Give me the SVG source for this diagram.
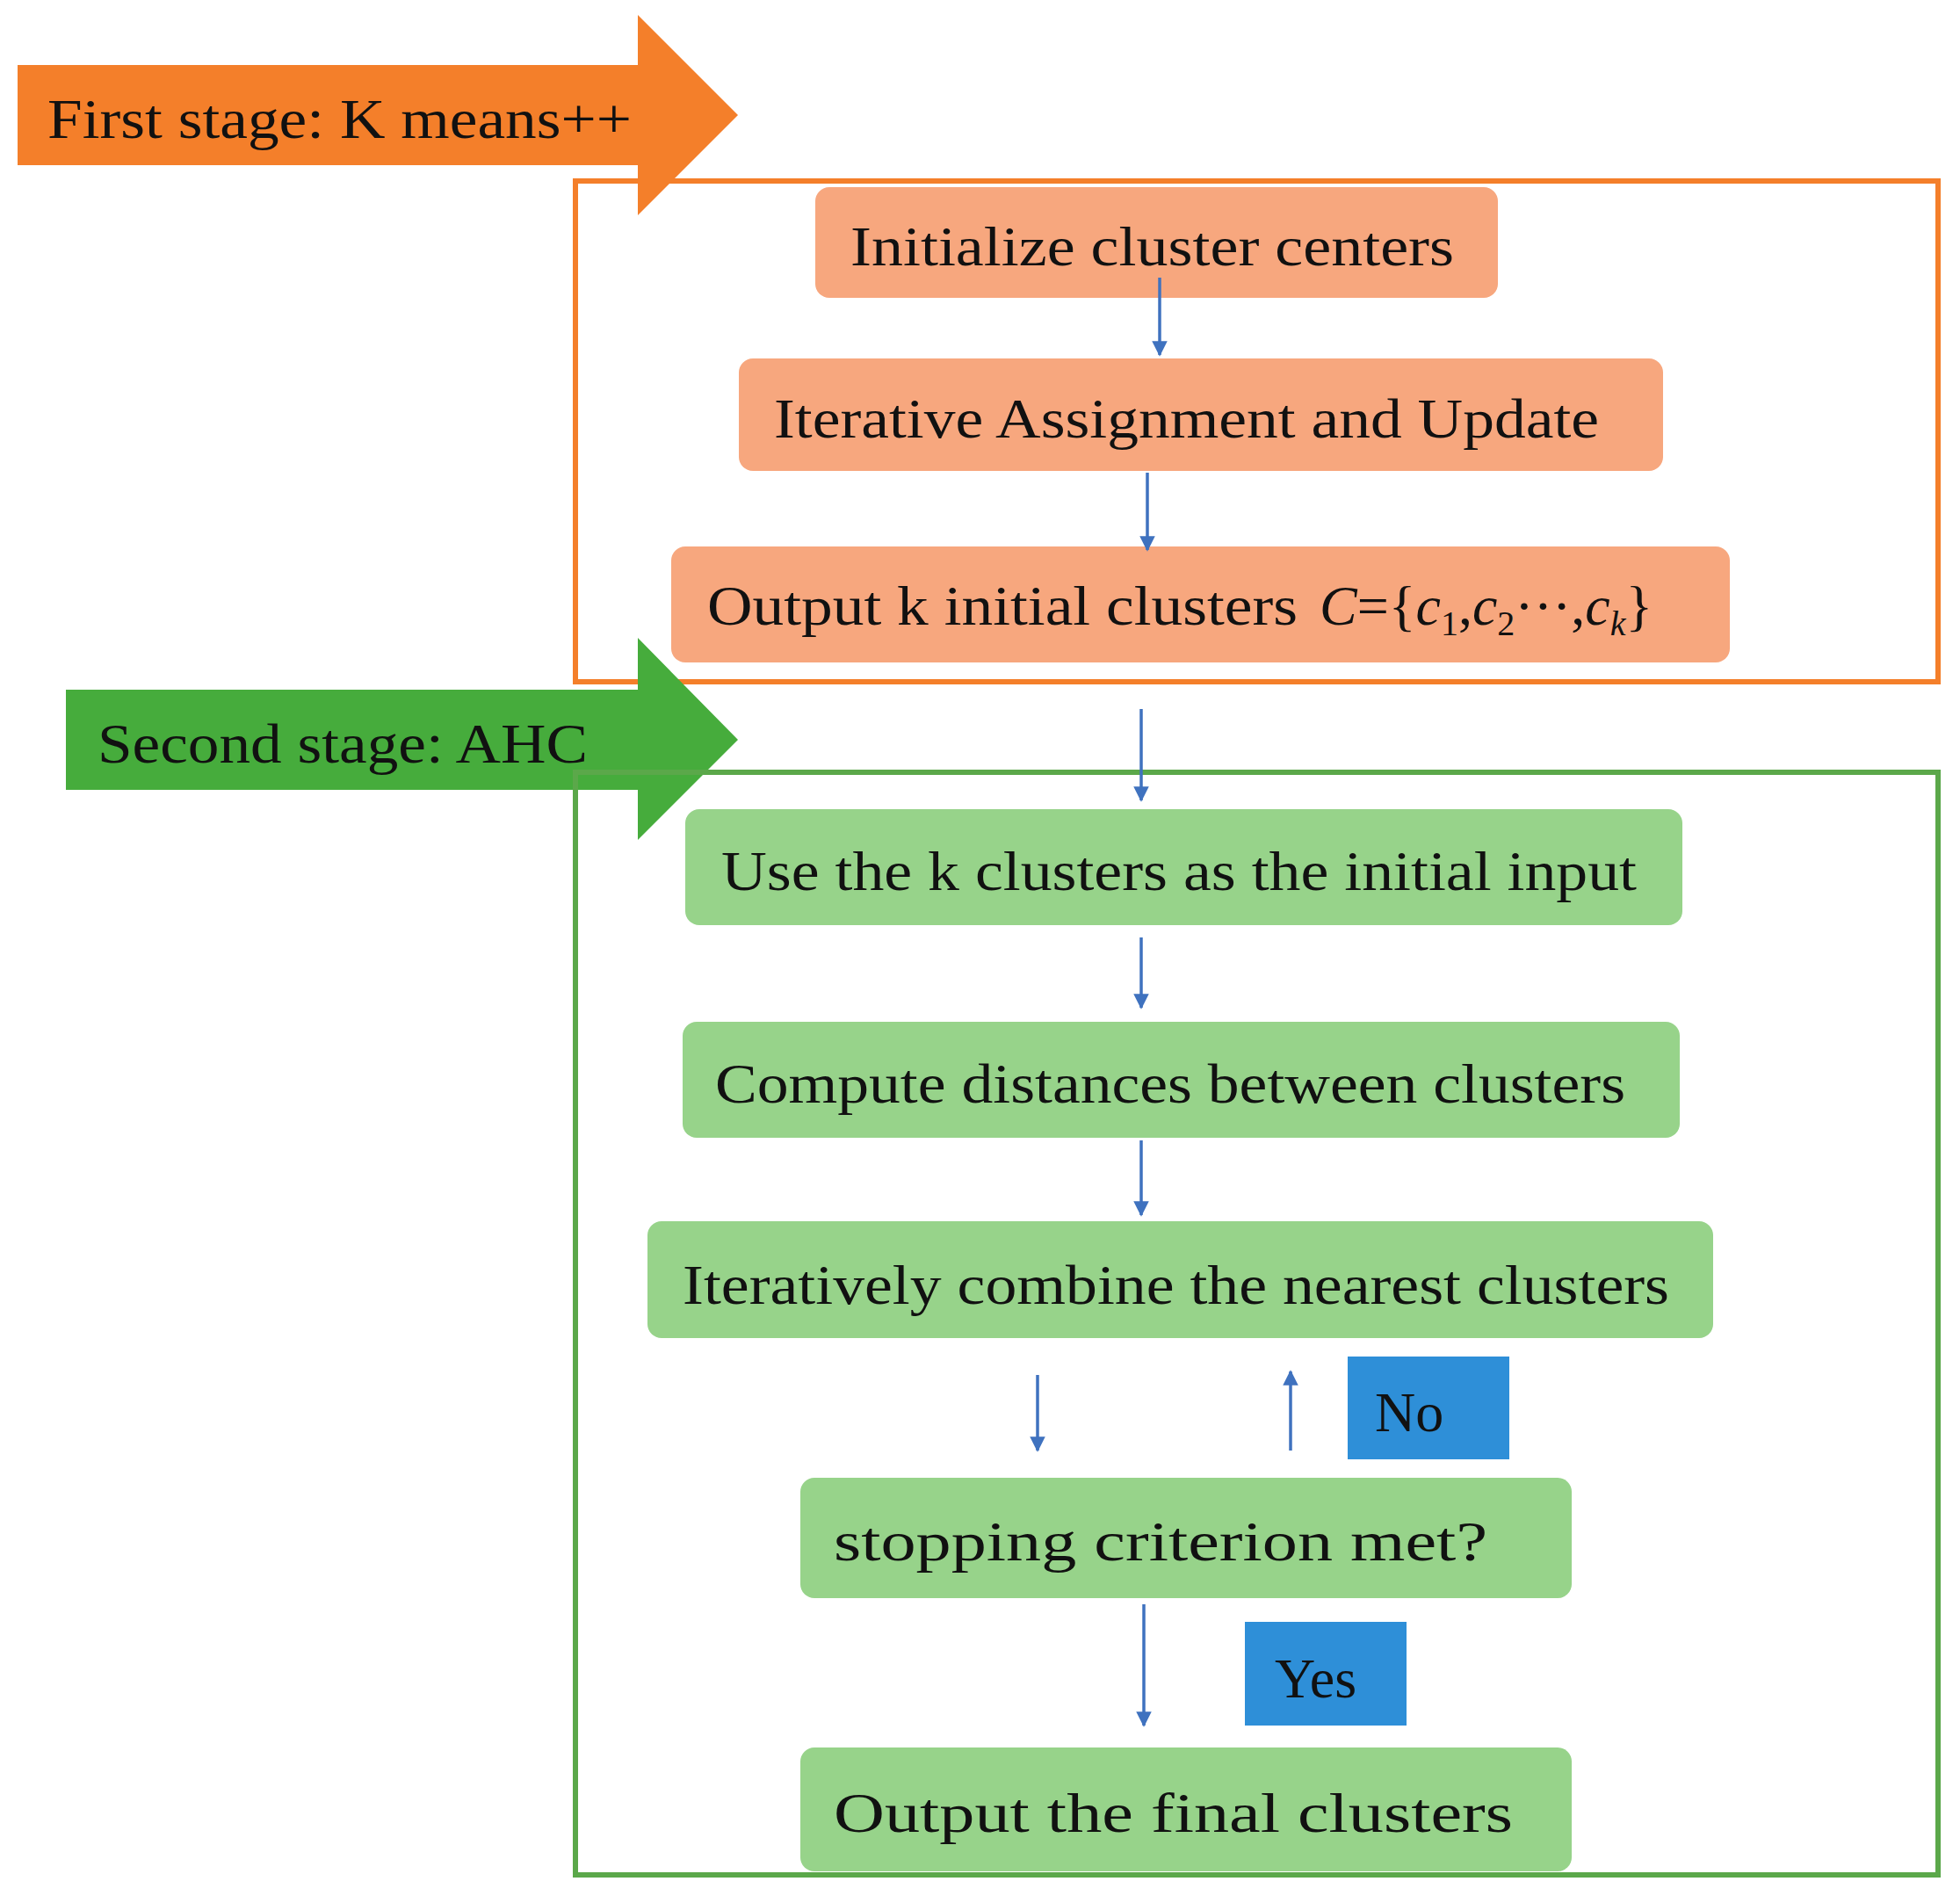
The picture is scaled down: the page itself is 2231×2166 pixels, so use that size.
<svg xmlns="http://www.w3.org/2000/svg" width="2231" height="2166" viewBox="0 0 2231 2166">
<defs>
<style>
.t{font-family:"Liberation Serif","Times New Roman",serif;font-size:64px;fill:#111}
.on{fill:#F7A77E}
.gn{fill:#97D38A}
.c{stroke:#3F72BF;stroke-width:3.5;fill:none}
</style>
<marker id="ah" viewBox="0 0 10 10" refX="9" refY="5" markerWidth="5" markerHeight="5" orient="auto" markerUnits="strokeWidth"><path d="M0,0L10,5L0,10z" fill="#3F72BF"/></marker>
</defs>
<rect width="2231" height="2166" fill="#fff"/>
<g id="stage1">
<path d="M20,74H726V17L840,131L726,245V188H20Z" fill="#F47F2A"/>
<text class="t" x="54" y="157" textLength="665" lengthAdjust="spacingAndGlyphs">First stage: K means++</text>
</g>
<rect id="frame1" x="655" y="206" width="1551" height="570" fill="none" stroke="#F47F2A" stroke-width="6"/>
<g id="stage2">
<path d="M75,785H726V726L840,842L726,956V899H75Z" fill="#46AC3C"/>
<text class="t" x="111" y="868" textLength="558" lengthAdjust="spacingAndGlyphs">Second stage: AHC</text>
</g>
<rect id="frame2" x="655" y="879" width="1551" height="1255" fill="none" stroke="#5BA84A" stroke-width="6"/>
<g id="n1"><rect class="on" x="928" y="213" width="777" height="126" rx="16"/><text class="t" x="968" y="302" textLength="687" lengthAdjust="spacingAndGlyphs">Initialize cluster centers</text></g>
<g id="n2"><rect class="on" x="841" y="408" width="1052" height="128" rx="16"/><text class="t" x="881" y="498" textLength="939" lengthAdjust="spacingAndGlyphs">Iterative Assignment and Update</text></g>
<g id="n3"><rect class="on" x="764" y="622" width="1205" height="132" rx="16"/><text class="t" x="805" y="711" textLength="672" lengthAdjust="spacingAndGlyphs">Output k initial clusters</text><text class="t" x="1502" y="711"><tspan font-style="italic">C</tspan>={<tspan font-style="italic">c</tspan><tspan font-size="40" dy="12">1</tspan><tspan dy="-12">,</tspan><tspan font-style="italic">c</tspan><tspan font-size="40" dy="12">2</tspan><tspan dy="-12">···,</tspan><tspan font-style="italic">c</tspan><tspan font-size="40" dy="12" font-style="italic">k</tspan><tspan dy="-12">}</tspan></text></g>
<g id="n4"><rect class="gn" x="780" y="921" width="1135" height="132" rx="16"/><text class="t" x="821" y="1013" textLength="1042" lengthAdjust="spacingAndGlyphs">Use the k clusters as the initial input</text></g>
<g id="n5"><rect class="gn" x="777" y="1163" width="1135" height="132" rx="16"/><text class="t" x="814" y="1255" textLength="1036" lengthAdjust="spacingAndGlyphs">Compute distances between clusters</text></g>
<g id="n6"><rect class="gn" x="737" y="1390" width="1213" height="133" rx="16"/><text class="t" x="777" y="1484" textLength="1123" lengthAdjust="spacingAndGlyphs">Iteratively combine the nearest clusters</text></g>
<g id="n7"><rect class="gn" x="911" y="1682" width="878" height="137" rx="16"/><text class="t" x="949" y="1776" font-size="70" textLength="744" lengthAdjust="spacingAndGlyphs">stopping criterion met?</text></g>
<g id="n8"><rect class="gn" x="911" y="1989" width="878" height="141" rx="16"/><text class="t" x="949" y="2085" font-size="70" textLength="773" lengthAdjust="spacingAndGlyphs">Output the final clusters</text></g>
<g id="no"><rect x="1534" y="1544" width="184" height="117" fill="#2E8FD8"/><text class="t" x="1565" y="1629">No</text></g>
<g id="yes"><rect x="1417" y="1846" width="184" height="118" fill="#2E8FD8"/><text class="t" x="1451" y="1932">Yes</text></g>
<g id="connectors">
<line class="c" x1="1320" y1="316" x2="1320" y2="404" marker-end="url(#ah)"/>
<line class="c" x1="1306" y1="538" x2="1306" y2="626" marker-end="url(#ah)"/>
<line class="c" x1="1299" y1="807" x2="1299" y2="911" marker-end="url(#ah)"/>
<line class="c" x1="1299" y1="1067" x2="1299" y2="1147" marker-end="url(#ah)"/>
<line class="c" x1="1299" y1="1298" x2="1299" y2="1383" marker-end="url(#ah)"/>
<line class="c" x1="1181" y1="1565" x2="1181" y2="1651" marker-end="url(#ah)"/>
<line class="c" x1="1469" y1="1651" x2="1469" y2="1561" marker-end="url(#ah)"/>
<line class="c" x1="1302" y1="1826" x2="1302" y2="1964" marker-end="url(#ah)"/>
</g>
</svg>
